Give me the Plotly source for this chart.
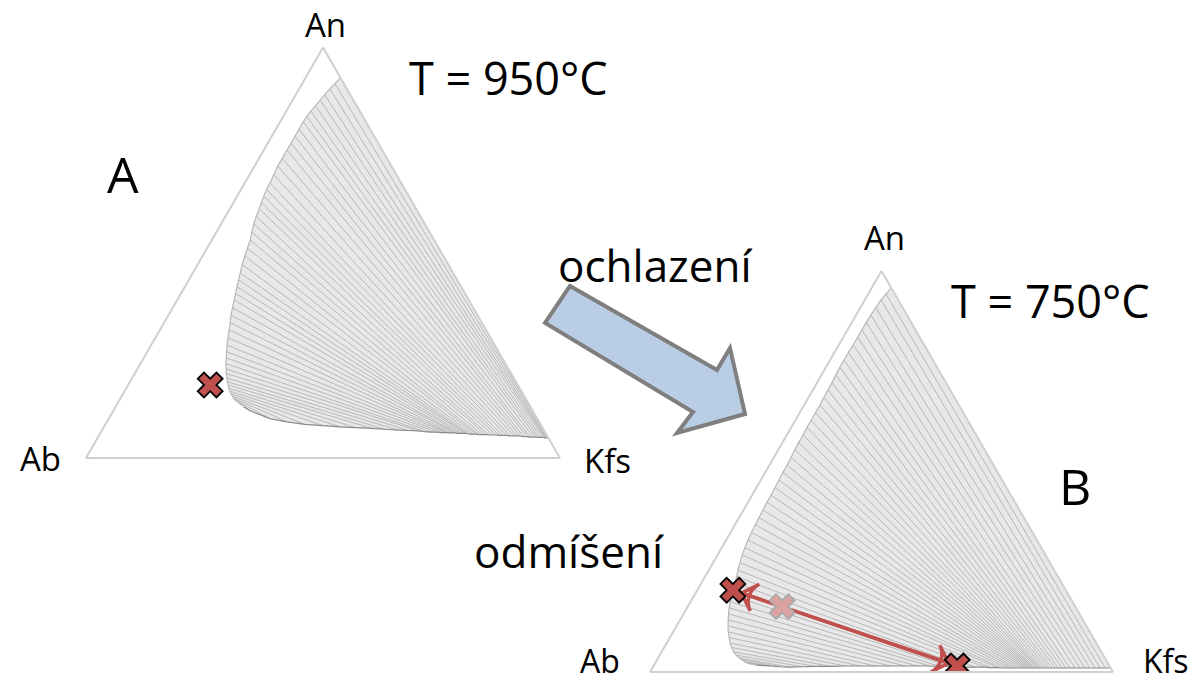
import plotly.graph_objects as go

# Feldspar solvus, compositions in mol % as (An, Kfs); Ab = 100 - An - Kfs.
# Plagioclase branch and alkali-feldspar branch are paired index by index (tie lines).
plag_950 = [
    (92.6, 7.4), (91.2, 6.9), (89.9, 6.5), (88.5, 6.1), (87.2, 5.8), (85.8, 5.5),
    (84.5, 5.2), (83.2, 5.0), (81.9, 4.9), (80.1, 4.9), (78.4, 4.9), (76.7, 4.9),
    (75.0, 4.9), (73.0, 4.9), (71.1, 4.9), (69.0, 5.1), (67.0, 5.3), (65.4, 5.4),
    (63.8, 5.6), (62.2, 5.9), (60.7, 6.2), (58.8, 6.5), (57.0, 6.9), (55.0, 7.5),
    (53.1, 8.1), (51.1, 8.5), (49.2, 8.9), (47.1, 9.4), (45.1, 10.0), (43.4, 10.5),
    (41.7, 11.0), (40.1, 11.5), (38.5, 12.0), (36.6, 12.6), (34.8, 13.2), (33.0, 13.9),
    (31.2, 14.6), (29.3, 15.3), (27.5, 16.0), (25.9, 16.7), (24.4, 17.4), (23.0, 18.0),
    (21.7, 18.7), (20.6, 19.3), (19.5, 20.0), (18.6, 20.5), (17.8, 21.1), (17.0, 21.6),
    (16.3, 22.2), (15.7, 22.7), (15.1, 23.3), (14.6, 23.8), (14.1, 24.4), (13.6, 25.3),
    (13.2, 25.9),
]
kfs_950 = [
    (4.9, 95.1), (4.9, 95.0), (4.9, 94.8), (4.9, 94.6), (4.9, 94.4), (5.0, 94.0),
    (5.0, 93.5), (5.0, 93.0), (5.1, 92.4), (5.1, 91.8), (5.1, 91.1), (5.2, 90.5),
    (5.2, 89.8), (5.3, 89.1), (5.4, 88.3), (5.4, 87.6), (5.4, 86.8), (5.5, 86.0),
    (5.5, 85.2), (5.5, 84.5), (5.6, 83.7), (5.6, 83.0), (5.6, 82.2), (5.7, 81.5),
    (5.7, 80.7), (5.7, 80.0), (5.8, 79.4), (5.8, 78.7), (5.8, 78.1), (5.9, 77.5),
    (6.0, 77.0), (6.0, 76.4), (6.0, 75.9), (6.0, 75.3), (6.1, 74.8), (6.1, 74.1),
    (6.1, 73.5), (6.2, 72.8), (6.2, 72.0), (6.3, 70.9), (6.3, 69.8), (6.4, 68.3),
    (6.6, 66.8), (6.7, 64.6), (6.8, 62.4), (7.0, 59.5), (7.2, 56.7), (7.4, 53.2),
    (7.6, 49.8), (7.9, 46.0), (8.2, 42.1), (8.8, 38.0), (9.6, 34.0), (11.5, 28.9),
    (12.4, 27.1),
]
bulk_950 = (17.8, 17.3)

plag_750 = [
    (95.8, 4.2), (94.3, 3.8), (92.8, 3.5), (90.9, 3.3), (89.0, 3.2), (87.2, 3.1),
    (85.3, 3.1), (83.5, 3.1), (81.6, 3.1), (79.7, 3.0), (77.8, 3.0), (76.0, 3.0),
    (74.1, 3.1), (72.2, 3.2), (70.3, 3.3), (68.5, 3.3), (66.6, 3.4), (64.7, 3.4),
    (62.8, 3.4), (61.0, 3.4), (59.1, 3.5), (57.2, 3.5), (55.4, 3.6), (53.5, 3.7),
    (51.6, 3.8), (49.8, 3.8), (47.9, 3.9), (46.0, 4.0), (44.1, 4.1), (42.3, 4.1),
    (40.4, 4.2), (38.5, 4.3), (36.7, 4.4), (34.8, 4.5), (32.9, 4.7), (31.0, 5.0),
    (29.2, 5.3), (27.3, 5.8), (25.4, 6.3), (23.8, 6.8), (22.2, 7.3), (20.6, 7.7),
    (19.0, 8.2), (17.5, 8.6), (16.0, 9.1), (14.5, 9.7), (13.0, 10.4), (11.5, 11.1),
    (10.0, 11.9), (8.6, 12.8), (7.2, 13.7), (6.1, 14.6), (5.0, 15.6), (4.2, 16.5),
    (3.5, 17.5), (3.0, 18.4), (2.5, 19.3), (2.2, 20.0), (2.0, 20.6),
]
kfs_750 = [
    (1.0, 99.0), (1.0, 97.8), (1.0, 96.7), (1.0, 95.6), (1.0, 94.5), (1.0, 93.4),
    (1.0, 92.4), (1.0, 91.3), (1.0, 90.2), (1.0, 89.3), (1.0, 88.5), (1.0, 87.7),
    (1.0, 87.0), (1.0, 86.3), (1.0, 85.7), (1.0, 85.1), (1.0, 84.6), (1.0, 84.1),
    (1.0, 83.7), (1.0, 83.4), (1.0, 83.1), (1.0, 82.7), (1.0, 82.4), (1.0, 82.1),
    (1.0, 81.8), (1.0, 81.5), (1.0, 81.1), (1.0, 80.7), (1.0, 80.3), (1.0, 79.7),
    (1.0, 79.2), (1.0, 78.5), (1.0, 77.9), (1.0, 77.2), (1.0, 76.4), (1.0, 75.4),
    (1.1, 74.4), (1.1, 73.0), (1.2, 71.7), (1.2, 69.6), (1.2, 67.6), (1.3, 65.8),
    (1.4, 64.1), (1.4, 61.9), (1.5, 59.7), (1.5, 57.0), (1.5, 54.3), (1.5, 51.1),
    (1.5, 47.9), (1.5, 44.6), (1.5, 41.4), (1.4, 38.2), (1.4, 35.0), (1.3, 32.3),
    (1.2, 29.6), (1.3, 27.4), (1.5, 25.2), (1.6, 23.7), (1.7, 22.2),
]
bulk_750 = (16.3, 20.4)
exsolved_plag_750 = (20.4, 7.7)
exsolved_kfs_750 = (1.5, 65.6)

RED = "#c0504d"
FONT = "Open Sans, Noto Sans, sans-serif"


def abc(points):
    a = [p[0] for p in points]
    c = [p[1] for p in points]
    b = [100 - p[0] - p[1] for p in points]
    return a, b, c


def tie_lines(plag, kfs):
    a, b, c = [], [], []
    for (pa, pk), (ka, kk) in zip(plag, kfs):
        a += [pa, ka, None]
        c += [pk, kk, None]
        b += [100 - pa - pk, 100 - ka - kk, None]
    return a, b, c


def solvus_traces(plag, kfs, subplot):
    traces = []
    # field enclosed by the two branches
    outline = list(plag) + list(reversed(kfs)) + [plag[0]]
    a, b, c = abc(outline)
    traces.append(go.Scatterternary(a=a, b=b, c=c, mode="lines", fill="toself",
                                    fillcolor="#e8e8e8", line=dict(width=0),
                                    subplot=subplot, hoverinfo="skip"))
    a, b, c = tie_lines(plag, kfs)
    traces.append(go.Scatterternary(a=a, b=b, c=c, mode="lines",
                                    line=dict(color="#ababab", width=0.8),
                                    subplot=subplot, hoverinfo="skip"))
    for branch, col in ((plag, "#b8b8b8"), (kfs, "#8a8a8a")):
        a, b, c = abc(branch)
        traces.append(go.Scatterternary(a=a, b=b, c=c, mode="lines",
                                        line=dict(color=col, width=1.2),
                                        subplot=subplot, hoverinfo="skip"))
    return traces


def cross(point, subplot, fill, edge, size=22):
    a, b, c = abc([point])
    return go.Scatterternary(a=a, b=b, c=c, mode="markers", subplot=subplot,
                             marker=dict(symbol="x", size=size, color=fill,
                                         line=dict(color=edge, width=1.8)),
                             hoverinfo="skip")


def arrow_to(start, end, subplot):
    a, b, c = abc([start, end])
    return go.Scatterternary(a=a, b=b, c=c, mode="lines+markers", subplot=subplot,
                             line=dict(color=RED, width=3.5),
                             marker=dict(symbol="arrow-wide-open", size=[0, 20],
                                         angleref="previous", standoff=9,
                                         color=RED, opacity=1,
                                         line=dict(color=RED, width=3.5)),
                             hoverinfo="skip")


fig = go.Figure()
for t in solvus_traces(plag_950, kfs_950, "ternary"):
    fig.add_trace(t)
fig.add_trace(cross(bulk_950, "ternary", RED, "black"))

for t in solvus_traces(plag_750, kfs_750, "ternary2"):
    fig.add_trace(t)
fig.add_trace(arrow_to(exsolved_kfs_750, exsolved_plag_750, "ternary2"))
fig.add_trace(arrow_to(exsolved_plag_750, exsolved_kfs_750, "ternary2"))
fig.add_trace(cross(bulk_750, "ternary2", "#daa2a1", "#a9a9a9"))
fig.add_trace(cross(exsolved_plag_750, "ternary2", RED, "black"))
fig.add_trace(cross(exsolved_kfs_750, "ternary2", RED, "black"))

axis = dict(showline=True, linecolor="#cfcfcf", linewidth=2, showgrid=False,
            showticklabels=False, ticks="", title=dict(text=""), min=0)


def ternary_layout(xdom, ydom):
    return dict(domain=dict(x=xdom, y=ydom), sum=100, bgcolor="white",
                aaxis=axis, baxis=axis, caxis=axis)


W, H = 1204, 683


def label(text, x, y, size, yanchor="middle"):
    return dict(text=text, x=x / W, y=1 - y / H, xref="paper", yref="paper",
                xanchor="center", yanchor=yanchor, showarrow=False, borderpad=0,
                font=dict(family=FONT, size=size, color="black"))


annotations = [
    label("An", 325, 24, 33), label("Ab", 40, 458, 33), label("Kfs", 607, 460, 33),
    label("T = 950°C", 508, 78, 45), label("A", 123, 174, 50),
    label("An", 884, 237, 33), label("Ab", 600, 683, 32, "bottom"),
    label("Kfs", 1166, 683, 32, "bottom"),
    label("T = 750°C", 1050, 300, 45), label("B", 1075, 486, 50),
    label("ochlazení", 655, 265, 44), label("odmíšení", 569, 551, 44),
]

# block arrow between the two diagrams
arrow_pts = [(570, 286), (717, 370), (730, 348), (745, 414), (677, 433), (693, 412), (545, 323)]
path = "M " + " L ".join(f"{x / W:.4f},{1 - y / H:.4f}" for x, y in arrow_pts) + " Z"

fig.update_layout(
    width=W, height=H, margin=dict(l=0, r=0, t=0, b=0),
    paper_bgcolor="white", plot_bgcolor="white", showlegend=False,
    ternary=ternary_layout([86 / W, 560 / W], [1 - 458 / H, 1 - 47.5 / H]),
    ternary2=ternary_layout([650 / W, 1113 / W], [1 - 672 / H, 1 - 271 / H]),
    annotations=annotations,
    shapes=[dict(type="path", path=path, xref="paper", yref="paper",
                 fillcolor="#b9cde5", line=dict(color="#7f7f7f", width=4))],
)

fig.write_html("out.html")
